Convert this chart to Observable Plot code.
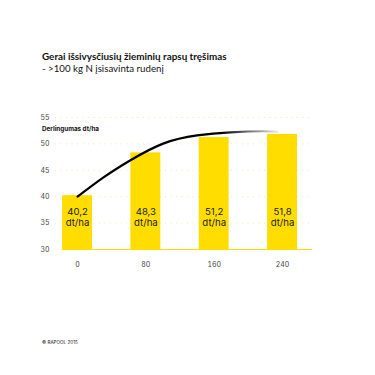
<!DOCTYPE html>
<html>
<head>
<meta charset="utf-8">
<script src="https://cdn.jsdelivr.net/npm/d3@7"></script>
<script src="https://cdn.jsdelivr.net/npm/@observablehq/plot@0.6"></script>
<style>
  html, body { margin: 0; padding: 0; background: #fff; }
  #wrap { position: relative; width: 375px; height: 375px; overflow: hidden; font-family: Lato, Inter, "Noto Sans", sans-serif; color: #111; }
  #title { position: absolute; left: 42px; top: 49.5px; font-size: 9.9px; font-weight: 700; white-space: nowrap; }
  #subtitle { position: absolute; left: 42px; top: 61.5px; font-size: 9.7px; font-weight: 400; white-space: nowrap; }
  #ylabel { position: absolute; left: 42px; top: 124.5px; font-size: 6.3px; font-weight: 700; white-space: nowrap; z-index: 2; font-family: Inter, sans-serif; }
  #caption { position: absolute; left: 42px; top: 340px; font-size: 4.6px; white-space: nowrap; color: #222; font-family: Inter, sans-serif; }
  #chart { position: absolute; left: 0; top: 90px; }
</style>
</head>
<body>
<div id="wrap">
  <div id="title">Gerai išsivysčiusių žieminių rapsų tręšimas</div>
  <div id="subtitle">- &gt;100 kg N įsisavinta rudenį</div>
  <div id="chart"></div>
  <div id="ylabel">Derlingumas dt/ha</div>
  <div id="caption">© RAPOOL 2015</div>
</div>
<script>
const doses = [0, 80, 160, 240];
const yields = [40.2, 48.3, 51.2, 51.8];
const yieldLabels = ["40,2", "48,3", "51,2", "51,8"];
const unitLabel = "dt/ha";
const yTicks = [30, 35, 40, 45, 50, 55];
const gridTicks = [35, 40, 45, 50, 55];
const curveN = [0, 30, 62, 101, 140, 179, 218, 234];
const curveY = [40.0, 43.6, 46.9, 50.1, 51.6, 52.2, 52.4, 52.3];

const bars = doses.map((n, i) => ({n, y: yields[i], label: yieldLabels[i] + "\n" + unitLabel}));
const curve = curveN.map((n, i) => ({n, y: curveY[i]}));

const halfBar = 17.5;
const yellow = "#FFDD00";

const svg = Plot.plot({
  width: 375,
  height: 200,
  marginLeft: 52,
  marginRight: 63,
  marginTop: 27,
  marginBottom: 41,
  style: {fontFamily: "Inter, 'Noto Sans', sans-serif", background: "transparent"},
  x: {type: "linear", domain: [-29.3, 275.1]},
  y: {domain: [30, 55]},
  marks: [
    Plot.ruleY(gridTicks, {x1: -25.8, x2: 275.1, stroke: "#f3e8a0", strokeWidth: 1, strokeDasharray: "1,4.5"}),
    Plot.rectY(bars, {x1: d => d.n - halfBar, x2: d => d.n + halfBar, y1: 30, y2: "y", fill: yellow}),
    Plot.ruleY([30], {x1: -halfBar, x2: 275.1, stroke: yellow, strokeWidth: 1.2}),
    Plot.line(curve, {x: "n", y: "y", curve: "natural", stroke: "black", strokeWidth: 2.2}),
    Plot.text(bars, {x: "n", y: 36.15, text: "label", fontSize: 9.6, lineHeight: 1.15, fill: "#222"}),
    Plot.axisY(yTicks, {tickSize: 0, tickPadding: 3, fontSize: 7, fill: "#444", label: null}),
    Plot.axisX(doses, {tickSize: 0, tickPadding: 13, fontSize: 7, fill: "#444", label: null})
  ]
});

const ns = "http://www.w3.org/2000/svg";
const defs = document.createElementNS(ns, "defs");
defs.innerHTML = '<linearGradient id="fade" x1="0" x2="1" y1="0" y2="0"><stop offset="0" stop-color="#000"/><stop offset="0.72" stop-color="#000"/><stop offset="1" stop-color="#e8e8e8"/></linearGradient>';
svg.insertBefore(defs, svg.firstChild);
d3.select(svg).selectAll('g[aria-label="line"] path').attr("stroke", "url(#fade)");

document.getElementById("chart").appendChild(svg);
</script>
</body>
</html>
